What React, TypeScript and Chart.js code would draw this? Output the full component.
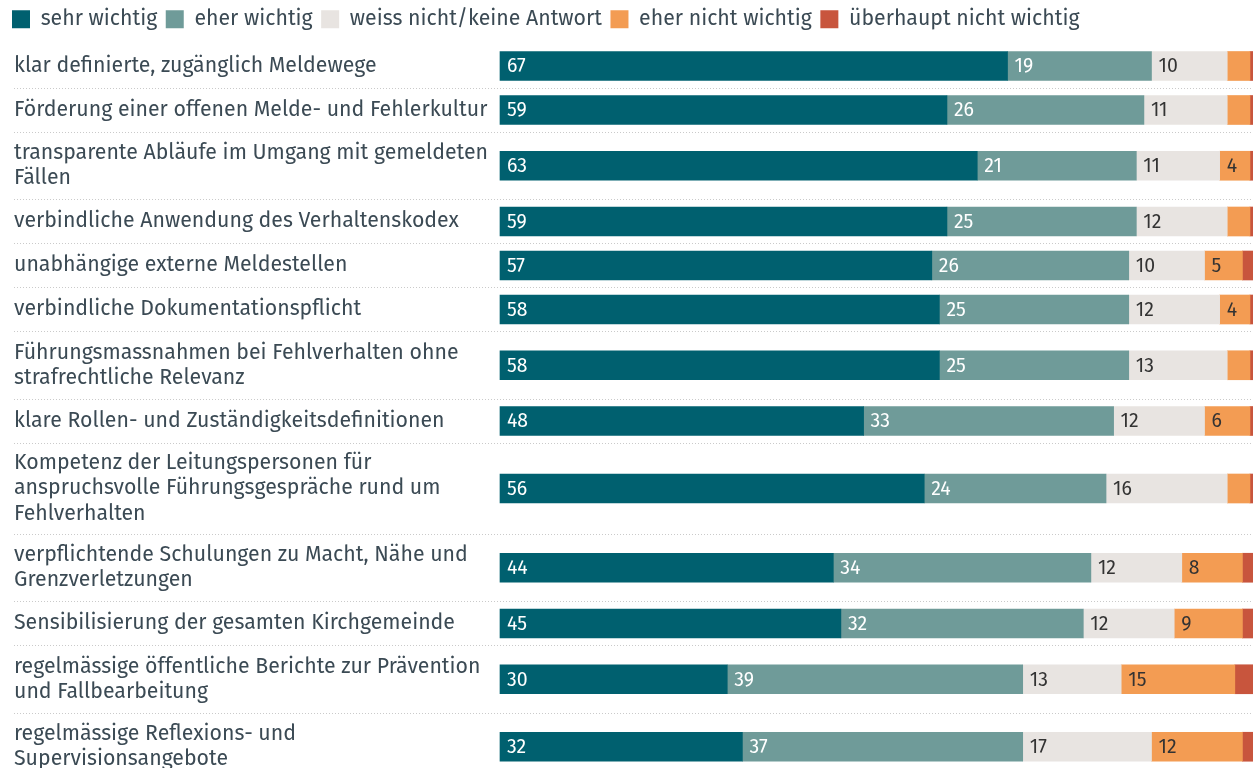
import React, { useEffect, useRef } from "react";
import { Chart, registerables } from "chart.js";

Chart.register(...registerables);

// ---------- data ----------
const categories: string[][] = [
  ["klar definierte, zugänglich Meldewege"],
  ["Förderung einer offenen Melde- und Fehlerkultur"],
  ["transparente Abläufe im Umgang mit gemeldeten", "Fällen"],
  ["verbindliche Anwendung des Verhaltenskodex"],
  ["unabhängige externe Meldestellen"],
  ["verbindliche Dokumentationspflicht"],
  ["Führungsmassnahmen bei Fehlverhalten ohne", "strafrechtliche Relevanz"],
  ["klare Rollen- und Zuständigkeitsdefinitionen"],
  ["Kompetenz der Leitungspersonen für", "anspruchsvolle Führungsgespräche rund um", "Fehlverhalten"],
  ["verpflichtende Schulungen zu Macht, Nähe und", "Grenzverletzungen"],
  ["Sensibilisierung der gesamten Kirchgemeinde"],
  ["regelmässige öffentliche Berichte zur Prävention", "und Fallbearbeitung"],
  ["regelmässige Reflexions- und", "Supervisionsangebote"],
];

const seriesNames = [
  "sehr wichtig",
  "eher wichtig",
  "weiss nicht/keine Antwort",
  "eher nicht wichtig",
  "überhaupt nicht wichtig",
];

const sehrWichtig = [67, 59, 63, 59, 57, 58, 58, 48, 56, 44, 45, 30, 32];
const eherWichtig = [19, 26, 21, 25, 26, 25, 25, 33, 24, 34, 32, 39, 37];
const weissNicht = [10, 11, 11, 12, 10, 12, 13, 12, 16, 12, 12, 13, 17];
const eherNicht = [3, 3, 4, 3, 5, 4, 3, 6, 3, 8, 9, 15, 12];
const ueberhauptNicht = [1, 1, 1, 1, 2, 1, 1, 1, 1, 2, 2, 3, 2];

const seriesValues = [sehrWichtig, eherWichtig, weissNicht, eherNicht, ueberhauptNicht];
const seriesColors = ["#00606F", "#6F9B99", "#E8E4E1", "#F39C53", "#C8553D"];
const labelColors = ["#FFFFFF", "#FFFFFF", "#333333", "#333333", "#333333"];

// ---------- layout derived from label line counts ----------
const FONT = "'Fira Sans', 'Open Sans', 'Noto Sans', sans-serif";
const TEXT_COLOR = "#3B4A54";
const GRID_COLOR = "#CACACA";
const FIRST_TOP = 44;
const ROW_PAD = 20.5;
const LINE_H = 23.5;

const rowCenters: number[] = [];
const rowBoundaries: number[] = [];
{
  let top = FIRST_TOP;
  categories.forEach((lines, i) => {
    const h = ROW_PAD + LINE_H * lines.length;
    rowCenters.push(top + h / 2);
    top += h;
    if (i < categories.length - 1) rowBoundaries.push(top);
  });
}

const valueLabelPlugin = {
  id: "valueLabels",
  afterDatasetsDraw(chart: any) {
    const ctx = chart.ctx;
    ctx.save();
    ctx.font = `19.5px ${FONT}`;
    ctx.textBaseline = "middle";
    ctx.textAlign = "left";
    chart.data.datasets.forEach((_ds: any, di: number) => {
      const meta = chart.getDatasetMeta(di);
      meta.data.forEach((bar: any, j: number) => {
        const v = seriesValues[di][j];
        if (v < 4) return;
        const { x, y, base } = bar.getProps(["x", "y", "base"], true);
        const left = Math.min(x, base);
        ctx.fillStyle = labelColors[di];
        ctx.fillText(String(v), left + 7, y + 1);
      });
    });
    ctx.restore();
  },
};

// map the row axes 1:1 onto canvas pixels and start the labels at the left text margin
const rowAxisPlugin = {
  id: "rowAxis",
  afterLayout(chart: any) {
    ["y", "y2"].forEach((id) => {
      const s = chart.scales[id];
      if (!s) return;
      s.min = s._startPixel;
      s.max = s._endPixel;
      s.configure();
    });
    chart.scales.y.left = 14;
  },
};

export default function App() {
  const ref = useRef<HTMLCanvasElement | null>(null);

  useEffect(() => {
    if (!ref.current) return;
    const zeroPad = (scale: any, w: number) => {
      scale.width = w;
      scale.paddingTop = 0;
      scale.paddingBottom = 0;
    };
    const labelFont = { family: FONT, size: 21.3, lineHeight: 1.18 };
    const tinyFont = { family: FONT, size: 1, lineHeight: 1 };
    const chart = new Chart(ref.current, {
      type: "bar",
      data: {
        datasets: seriesValues.map((vals, di) => ({
          label: seriesNames[di],
          data: vals.map((v, i) => ({ x: v, y: rowCenters[i] })),
          backgroundColor: seriesColors[di],
          borderWidth: 0,
          barThickness: 29,
          stack: "s",
          yAxisID: "y",
          clip: false,
        })),
      },
      options: {
        indexAxis: "y",
        animation: false,
        responsive: false,
        devicePixelRatio: 1,
        layout: { padding: { left: 3.5, top: 0, right: 0, bottom: 0 } },
        plugins: {
          legend: {
            display: true,
            position: "top",
            align: "start",
            labels: {
              boxWidth: 18,
              boxHeight: 18,
              padding: 8.5,
              color: TEXT_COLOR,
              font: { family: FONT, size: 21.3 },
            },
          },
          tooltip: { enabled: false },
        },
        scales: {
          x: {
            type: "linear",
            stacked: true,
            min: 0,
            max: 99.4,
            display: false,
          },
          y: {
            type: "linear",
            position: "left",
            weight: 1,
            reverse: true,
            offset: false,
            min: 40,
            max: 768,
            afterBuildTicks: (scale: any) => {
              scale.ticks = [
                { value: 40 },
                ...rowCenters.map((v) => ({ value: v })),
                { value: 768 },
              ];
            },
            afterFit: (scale: any) => zeroPad(scale, 496.5),
            ticks: {
              autoSkip: false,
              crossAlign: "far",
              padding: 0,
              color: TEXT_COLOR,
              font: (c: any) =>
                c.tick && rowCenters.indexOf(c.tick.value) >= 0 ? labelFont : tinyFont,
              callback: (value: any) => {
                const i = rowCenters.indexOf(Number(value));
                return i >= 0 ? categories[i] : "";
              },
            },
            grid: { display: false, offset: false },
            border: { display: false },
          },
          y2: {
            type: "linear",
            position: "left",
            weight: 0,
            reverse: true,
            offset: false,
            min: 40,
            max: 768,
            afterBuildTicks: (scale: any) => {
              scale.ticks = rowBoundaries.map((v) => ({ value: v }));
            },
            afterFit: (scale: any) => zeroPad(scale, 0),
            ticks: { display: false, autoSkip: false },
            grid: {
              display: true,
              offset: false,
              drawTicks: true,
              drawOnChartArea: true,
              tickLength: 486,
              lineWidth: 1,
              color: GRID_COLOR,
              tickColor: GRID_COLOR,
              tickBorderDash: [1, 2],
            },
            border: { display: false, dash: [1, 2] },
          },
        },
      } as any,
      plugins: [valueLabelPlugin, rowAxisPlugin],
    });
    return () => chart.destroy();
  }, []);

  return (
    <div
      style={{
        position: "fixed",
        left: 0,
        top: 0,
        width: 1253,
        height: 768,
        overflow: "hidden",
        background: "#ffffff",
      }}
    >
      <canvas ref={ref} width={1253} height={768} />
    </div>
  );
}
